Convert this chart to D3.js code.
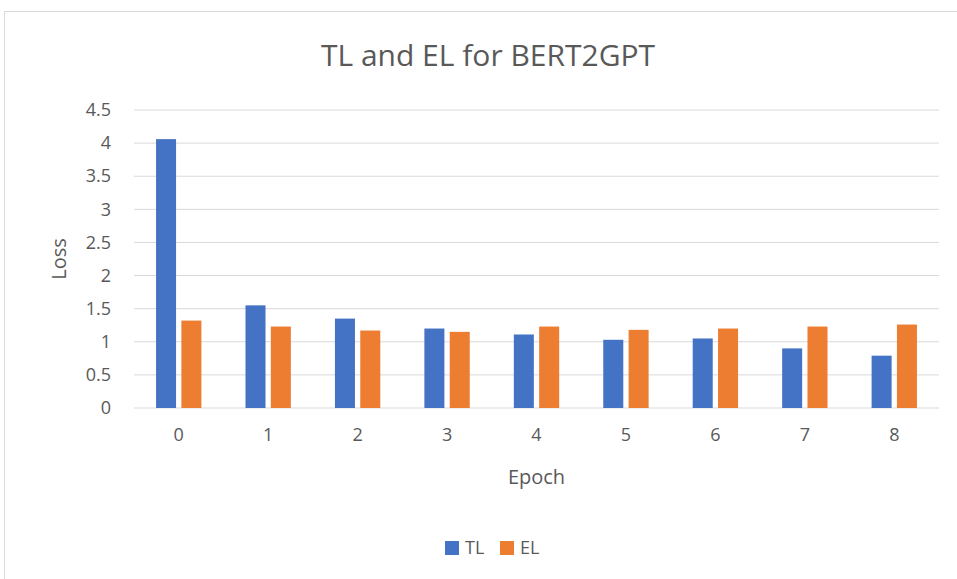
<!DOCTYPE html>
<html>
<head>
<meta charset="utf-8">
<script src="https://cdn.jsdelivr.net/npm/d3@7"></script>
<style>
  body { margin: 0; background: #fff; }
  text { font-family: "Open Sans", "Liberation Sans", sans-serif; fill: #595959; }
</style>
</head>
<body>
<svg id="drawing_region"></svg>
<script>
const epochs = [0, 1, 2, 3, 4, 5, 6, 7, 8];
const seriesNames = ['TL', 'EL'];
const tlValues = [4.06, 1.55, 1.35, 1.2, 1.11, 1.03, 1.05, 0.9, 0.79];
const elValues = [1.32, 1.23, 1.17, 1.15, 1.23, 1.18, 1.2, 1.23, 1.26];
const yTicks = [0, 0.5, 1, 1.5, 2, 2.5, 3, 3.5, 4, 4.5];
const colors = ['#4472C4', '#ED7D31'];

const rows = epochs.map((e, i) => ({ epoch: e, TL: tlValues[i], EL: elValues[i] }));

const config = {
    width: 957,
    height: 579,
    margin: { top: 110, right: 18, bottom: 171, left: 134 }
};

const svg = d3.select('#drawing_region')
    .attr('width', config.width)
    .attr('height', config.height);

// chart frame
svg.append('rect')
    .attr('x', 4.5).attr('y', 11.5)
    .attr('width', 960).attr('height', 580)
    .attr('fill', '#fff')
    .attr('stroke', '#D9D9D9');

const inner_width = config.width - config.margin.left - config.margin.right;
const inner_height = config.height - config.margin.top - config.margin.bottom;

const chart = svg.append('g')
    .attr('transform', `translate(${config.margin.left}, ${config.margin.top})`);

const x0 = d3.scaleBand()
    .domain(epochs)
    .range([0, inner_width])
    .paddingInner(0.493)
    .paddingOuter(0.2465);

const x1 = d3.scaleBand()
    .domain(seriesNames)
    .range([0, x0.bandwidth()])
    .paddingInner(0.21);

const yscale = d3.scaleLinear()
    .domain([0, 4.5])
    .range([inner_height, 0]);

const color = d3.scaleOrdinal().domain(seriesNames).range(colors);

// gridlines
chart.append('g')
    .selectAll('line')
    .data(yTicks)
    .join('line')
    .attr('x1', 0).attr('x2', inner_width)
    .attr('y1', d => yscale(d)).attr('y2', d => yscale(d))
    .attr('stroke', '#D9D9D9')
    .attr('stroke-width', 1);

// y axis labels
const yaxis = d3.axisLeft(yscale).tickValues(yTicks).tickSize(0).tickPadding(23)
    .tickFormat(d => d);
chart.append('g')
    .call(yaxis)
    .call(g => g.select('.domain').remove())
    .selectAll('text')
    .attr('font-size', 18)
    .style('font-family', '"Open Sans", sans-serif')
    .attr('fill', '#595959');

// x axis labels
const xaxis = d3.axisBottom(x0).tickSize(0).tickPadding(20);
chart.append('g')
    .attr('transform', `translate(0, ${inner_height})`)
    .call(xaxis)
    .call(g => g.select('.domain').remove())
    .selectAll('text')
    .attr('font-size', 18)
    .style('font-family', '"Open Sans", sans-serif')
    .attr('fill', '#595959');

// bars
chart.append('g')
    .selectAll('g')
    .data(rows)
    .join('g')
    .attr('transform', d => `translate(${x0(d.epoch)}, 0)`)
    .selectAll('rect')
    .data(d => seriesNames.map(k => ({ key: k, value: d[k] })))
    .join('rect')
    .attr('x', d => x1(d.key))
    .attr('y', d => yscale(d.value))
    .attr('width', x1.bandwidth())
    .attr('height', d => yscale(0) - yscale(d.value))
    .attr('fill', d => color(d.key));

// title
svg.append('text')
    .attr('x', 488).attr('y', 66)
    .attr('text-anchor', 'middle')
    .attr('font-size', 30)
    .text('TL and EL for BERT2GPT');

// axis titles
svg.append('text')
    .attr('x', config.margin.left + inner_width / 2).attr('y', 484)
    .attr('text-anchor', 'middle')
    .attr('font-size', 20)
    .text('Epoch');

svg.append('text')
    .attr('transform', `translate(66, ${config.margin.top + inner_height / 2}) rotate(-90)`)
    .attr('text-anchor', 'middle')
    .attr('font-size', 20)
    .text('Loss');

// legend
const legend = svg.append('g')
    .attr('transform', 'translate(445, 541)');

const items = legend.selectAll('g')
    .data(seriesNames)
    .join('g')
    .attr('transform', (d, i) => `translate(${i * 55}, 0)`);

items.append('rect')
    .attr('width', 14).attr('height', 14)
    .attr('fill', d => color(d));

items.append('text')
    .attr('x', 20).attr('y', 13)
    .attr('font-size', 18)
    .text(d => d);
</script>
</body>
</html>
